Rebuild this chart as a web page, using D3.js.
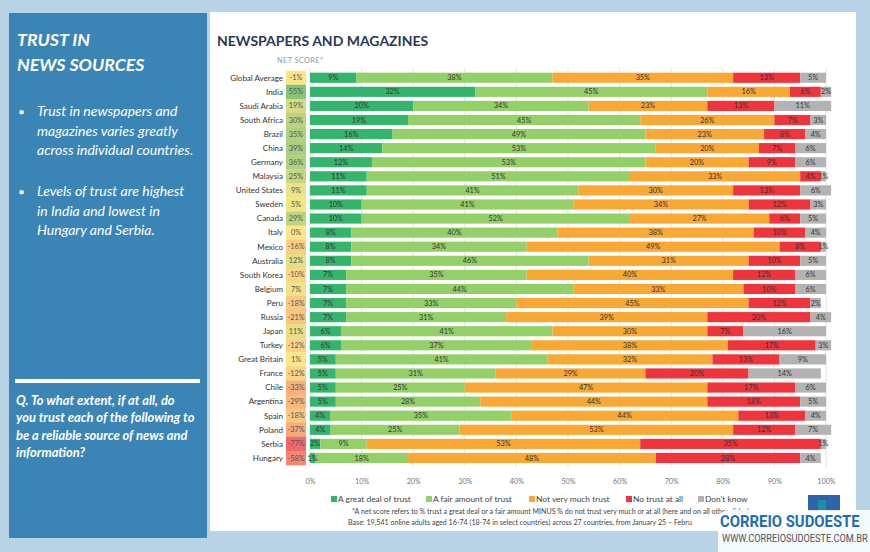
<!DOCTYPE html>
<html>
<head>
<meta charset="utf-8">
<script src="https://cdn.jsdelivr.net/npm/d3@7"></script>
<style>
  html, body { margin: 0; padding: 0; background: #b7d3e5; }
  svg { display: block; font-family: Lato, "Open Sans", sans-serif; }
</style>
</head>
<body>
<div id="chart"></div>
<script>
const countries = ["Global Average", "India", "Saudi Arabia", "South Africa", "Brazil", "China", "Germany",
  "Malaysia", "United States", "Sweden", "Canada", "Italy", "Mexico", "Australia", "South Korea", "Belgium",
  "Peru", "Russia", "Japan", "Turkey", "Great Britain", "France", "Chile", "Argentina", "Spain", "Poland",
  "Serbia", "Hungary"];
const netScores = [-1, 55, 19, 30, 35, 39, 36, 25, 9, 5, 29, 0, -16, 12, -10, 7, -18, -21, 11, -12, 1, -12, -33, -29, -18, -37, -77, -58];
const greatDeal = [9, 32, 20, 19, 16, 14, 12, 11, 11, 10, 10, 8, 8, 8, 7, 7, 7, 7, 6, 6, 5, 5, 5, 5, 4, 4, 2, 1];
const fairAmount = [38, 45, 34, 45, 49, 53, 53, 51, 41, 41, 52, 40, 34, 46, 35, 44, 33, 31, 41, 37, 41, 31, 25, 28, 35, 25, 9, 18];
const notVery = [35, 16, 23, 26, 23, 20, 20, 33, 30, 34, 27, 38, 49, 31, 40, 33, 45, 39, 30, 38, 32, 29, 47, 44, 44, 53, 53, 48];
const noTrust = [13, 6, 13, 7, 8, 7, 9, 4, 13, 12, 6, 10, 8, 10, 12, 10, 12, 20, 7, 17, 13, 20, 17, 18, 13, 12, 35, 28];
const dontKnow = [5, 2, 11, 3, 4, 6, 6, 1, 6, 3, 5, 4, 1, 5, 6, 6, 2, 4, 16, 3, 9, 14, 6, 5, 4, 7, 1, 4];
const seriesNames = ["A great deal of trust", "A fair amount of trust", "Not very much trust", "No trust at all", "Don't know"];
const tickValues = [0, 10, 20, 30, 40, 50, 60, 70, 80, 90, 100];

const W = 870, H = 552;
const keys = ["great", "fair", "notVery", "none", "dk"];
const rows = countries.map((c, i) => ({
  country: c, net: netScores[i],
  great: greatDeal[i], fair: fairAmount[i], notVery: notVery[i], none: noTrust[i], dk: dontKnow[i]
}));

const svg = d3.select("#chart").append("svg").attr("width", W).attr("height", H);

// frame
svg.append("rect").attr("width", W).attr("height", H).attr("fill", "#b7d3e5");
svg.append("rect").attr("x", 210).attr("y", 12).attr("width", 646).attr("height", 519).attr("fill", "#ffffff");
svg.append("rect").attr("x", 9).attr("y", 13).attr("width", 198).attr("height", 525).attr("fill", "#3b85b6");

// left panel text
const side = svg.append("g").attr("fill", "#ffffff").style("font-style", "italic");
side.append("text").attr("x", 17).attr("y", 46).text("TRUST IN")
  .style("font-size", "17.8px").style("font-weight", "bold");
side.append("text").attr("x", 17).attr("y", 71).text("NEWS SOURCES")
  .style("font-size", "17.8px").style("font-weight", "bold");

const bullets = [
  { y: 116, lines: ["Trust in newspapers and", "magazines varies greatly", "across individual countries."] },
  { y: 196, lines: ["Levels of trust are highest", "in India and lowest in", "Hungary and Serbia."] }
];
bullets.forEach(b => {
  side.append("text").attr("x", 18).attr("y", b.y).text("•").style("font-size", "12px").style("font-style", "normal");
  b.lines.forEach((l, j) => {
    side.append("text").attr("x", 37).attr("y", b.y + j * 19.5).text(l).style("font-size", "14px");
  });
});

svg.append("rect").attr("x", 15).attr("y", 379).attr("width", 185).attr("height", 4).attr("fill", "#ffffff");
["Q. To what extent, if at all, do", "you trust each of the following to", "be a reliable source of news and", "information?"]
  .forEach((l, j) => {
    side.append("text").attr("x", 16).attr("y", 405 + j * 17.3).text(l)
      .style("font-size", "12.9px").style("font-weight", "bold");
  });

// chart title
svg.append("text").attr("x", 217).attr("y", 46).text("NEWSPAPERS AND MAGAZINES")
  .attr("fill", "#2b3856").style("font-size", "14px").style("font-weight", "bold");
svg.append("text").attr("x", 277).attr("y", 63).text("NET SCORE*")
  .attr("fill", "#9a9a9a").style("font-size", "7.5px").style("letter-spacing", "0.3px");

// scales
const x = d3.scaleLinear().domain([0, 100]).range([310, 826]);
const y = d3.scaleBand().domain(countries).range([70.7, 465]).paddingInner(0.28).paddingOuter(0.14);
const yCell = d3.scaleBand().domain(countries).range([70.7, 465]).padding(0);
const color = d3.scaleOrdinal().domain(keys).range(["#33b56c", "#93d068", "#f9a833", "#ef343b", "#b3b3b3"]);
const netColor = d3.scaleLinear()
  .domain([d3.min(netScores), d3.median(netScores), d3.max(netScores)])
  .range(["#f2686b", "#fde787", "#84c47a"]);

// gridlines
svg.append("g").selectAll("line").data(tickValues).join("line")
  .attr("x1", d => x(d)).attr("x2", d => x(d))
  .attr("y1", 68).attr("y2", 467)
  .attr("stroke", "#dcdcdc").attr("stroke-width", 0.8);

// tick labels
const axis = svg.append("g").attr("transform", "translate(0,476)")
  .call(d3.axisBottom(x).tickValues(tickValues).tickFormat(d => d + "%").tickSize(0));
axis.select(".domain").remove();
axis.selectAll("text").attr("fill", "#777").style("font-size", "7.2px").style("font-family", "Lato, sans-serif");

// country labels
svg.append("g").selectAll("text").data(rows).join("text")
  .attr("x", 283).attr("y", d => yCell(d.country) + yCell.bandwidth() / 2)
  .attr("dy", "0.35em").attr("text-anchor", "end")
  .attr("fill", "#333").style("font-size", "8px")
  .text(d => d.country);

// net score cells
const net = svg.append("g");
net.selectAll("rect").data(rows).join("rect")
  .attr("x", 286).attr("y", d => yCell(d.country)).attr("width", 20).attr("height", yCell.bandwidth() + 0.3)
  .attr("fill", d => netColor(d.net));
net.selectAll("text").data(rows).join("text")
  .attr("x", 296).attr("y", d => yCell(d.country) + yCell.bandwidth() / 2)
  .attr("dy", "0.35em").attr("text-anchor", "middle")
  .attr("fill", "#555").style("font-size", "7.3px")
  .text(d => d.net + "%");

// stacked bars
const stacked = d3.stack().keys(keys)(rows);
const layers = svg.append("g").selectAll("g").data(stacked).join("g").attr("fill", d => color(d.key));
layers.selectAll("rect").data(d => d).join("rect")
  .attr("x", d => x(d[0])).attr("y", d => y(d.data.country))
  .attr("width", d => x(d[1]) - x(d[0])).attr("height", y.bandwidth());

const labels = svg.append("g");
stacked.forEach(layer => {
  labels.selectAll(null).data(layer).join("text")
    .attr("x", d => (x(d[0]) + x(d[1])) / 2)
    .attr("y", d => y(d.data.country) + y.bandwidth() / 2)
    .attr("dy", "0.35em").attr("text-anchor", "middle")
    .attr("fill", "#333").style("font-size", "7.3px")
    .text(d => (d[1] - d[0]) + "%");
});

// legend
const legendX = [331, 426, 529, 626, 698];
const legend = svg.append("g").selectAll("g").data(keys).join("g")
  .attr("transform", (d, i) => "translate(" + legendX[i] + ",499)");
legend.append("rect").attr("x", 0).attr("y", -3).attr("width", 6).attr("height", 6).attr("fill", d => color(d));
legend.append("text").attr("x", 7).attr("dy", "0.35em").attr("fill", "#444").style("font-size", "8.4px")
  .text((d, i) => seriesNames[i]);

// footnotes
svg.append("text").attr("x", 352).attr("y", 514).attr("fill", "#444").style("font-size", "7.1px")
  .text("*A net score refers to % trust a great deal or a fair amount MINUS % do not trust very much or at all (here and on all other slides)");
svg.append("text").attr("x", 348).attr("y", 525).attr("fill", "#444").style("font-size", "7.1px")
  .text("Base: 19,541 online adults aged 16-74 (18-74 in select countries) across 27 countries, from January 25 – Febru");

// small logo
svg.append("rect").attr("x", 808).attr("y", 495).attr("width", 32).attr("height", 16).attr("fill", "#2f63ad");
svg.append("rect").attr("x", 818).attr("y", 500).attr("width", 8).attr("height", 11).attr("fill", "#1e8fa0");

// watermark
svg.append("rect").attr("x", 718).attr("y", 510).attr("width", 170).attr("height", 50).attr("rx", 10)
  .attr("fill", "#ffffff").attr("fill-opacity", 0.85);
svg.append("text").attr("transform", "translate(720,527) scale(0.93,1)").text("CORREIO SUDOESTE")
  .attr("fill", "#1c6db4").style("font-size", "16px").style("font-weight", "bold")
  .style("font-family", "Roboto, sans-serif");
svg.append("text").attr("transform", "translate(722,542) scale(0.92,1)").text("WWW.CORREIOSUDOESTE.COM.BR")
  .attr("fill", "#555").style("font-size", "10px")
  .style("font-family", "Roboto, sans-serif");
</script>
</body>
</html>
